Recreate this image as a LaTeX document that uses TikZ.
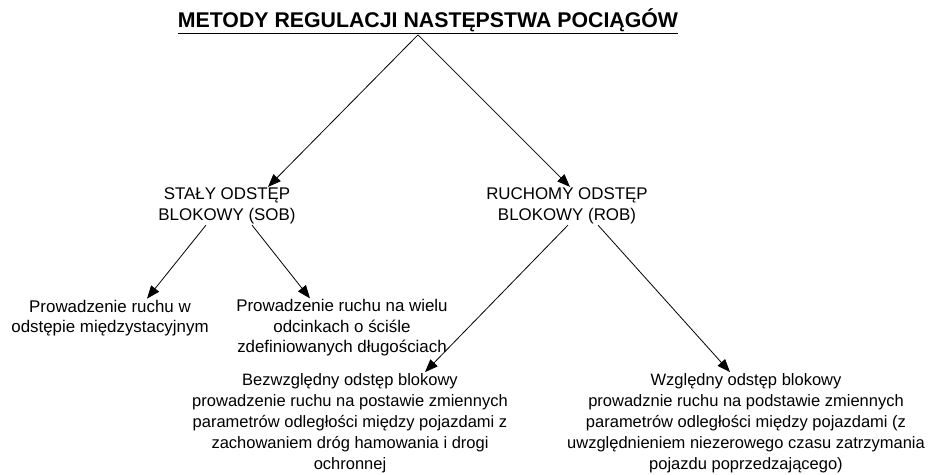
\documentclass[tikz,border=0pt]{standalone}
\usepackage{fontspec}
\setmainfont{Liberation Sans}
\usetikzlibrary{arrows.meta}
\tikzset{
	strz/.style={line width=.8pt,-{Triangle[length=13pt,width=10pt]}},
	tekst/.style={align=center,inner sep=1pt,font=\fontsize{16.9}{20.5}\selectfont},
	tekstdol/.style={align=center,inner sep=1pt,font=\fontsize{16.5}{21}\selectfont}
}
\begin{document}
\begin{tikzpicture}[x=1pt,y=-1pt]
			\useasboundingbox (0,0) rectangle (936,474);
			%Tytul
			\node[font=\fontsize{21.3}{25}\selectfont\bfseries,inner sep=1pt] (tytul) at (428,21) {\underline{METODY REGULACJI NASTĘPSTWA POCIĄGÓW}};
			%Poziom 1
			\node[tekst] (sob) at (227,206) {STAŁY ODSTĘP\\BLOKOWY (SOB)};
			\node[tekst] (rob) at (567,206) {RUCHOMY ODSTĘP\\BLOKOWY (ROB)};
			%Poziom 2
			\node[tekst] (miedzy) at (110,318) {Prowadzenie ruchu w\\odstępie międzystacyjnym};
			\node[tekst] (wiele) at (342,328) {Prowadzenie ruchu na wielu\\odcinkach o ściśle\\zdefiniowanych długościach};
			%Poziom 3
			\node[tekstdol] (bezwz) at (350,423) {Bezwzględny odstęp blokowy\\prowadzenie ruchu na postawie zmiennych\\parametrów odległości między pojazdami z\\zachowaniem dróg hamowania i drogi\\ochronnej};
			\node[tekstdol] (wzgl) at (746,423) {Względny odstęp blokowy\\prowadznie ruchu na podstawie zmiennych\\parametrów odległości między pojazdami (z\\uwzględnieniem niezerowego czasu zatrzymania\\pojazdu poprzedzającego)};
			%Strzalki
			\draw[strz] ([xshift=-10pt]tytul.south) -- ([xshift=41pt]sob.north);
			\draw[strz] ([xshift=-10pt]tytul.south) -- ([xshift=3pt]rob.north);
			\draw[strz] ([xshift=-21pt]sob.south) -- ([xshift=37pt]miedzy.north);
			\draw[strz] ([xshift=25pt]sob.south) -- ([xshift=-32pt]wiele.north);
			\draw[strz] ([xshift=1pt]rob.south) -- ([xshift=75pt]bezwz.north);
			\draw[strz] ([xshift=31pt]rob.south) -- ([xshift=-16pt]wzgl.north);
\end{tikzpicture}
\end{document}
